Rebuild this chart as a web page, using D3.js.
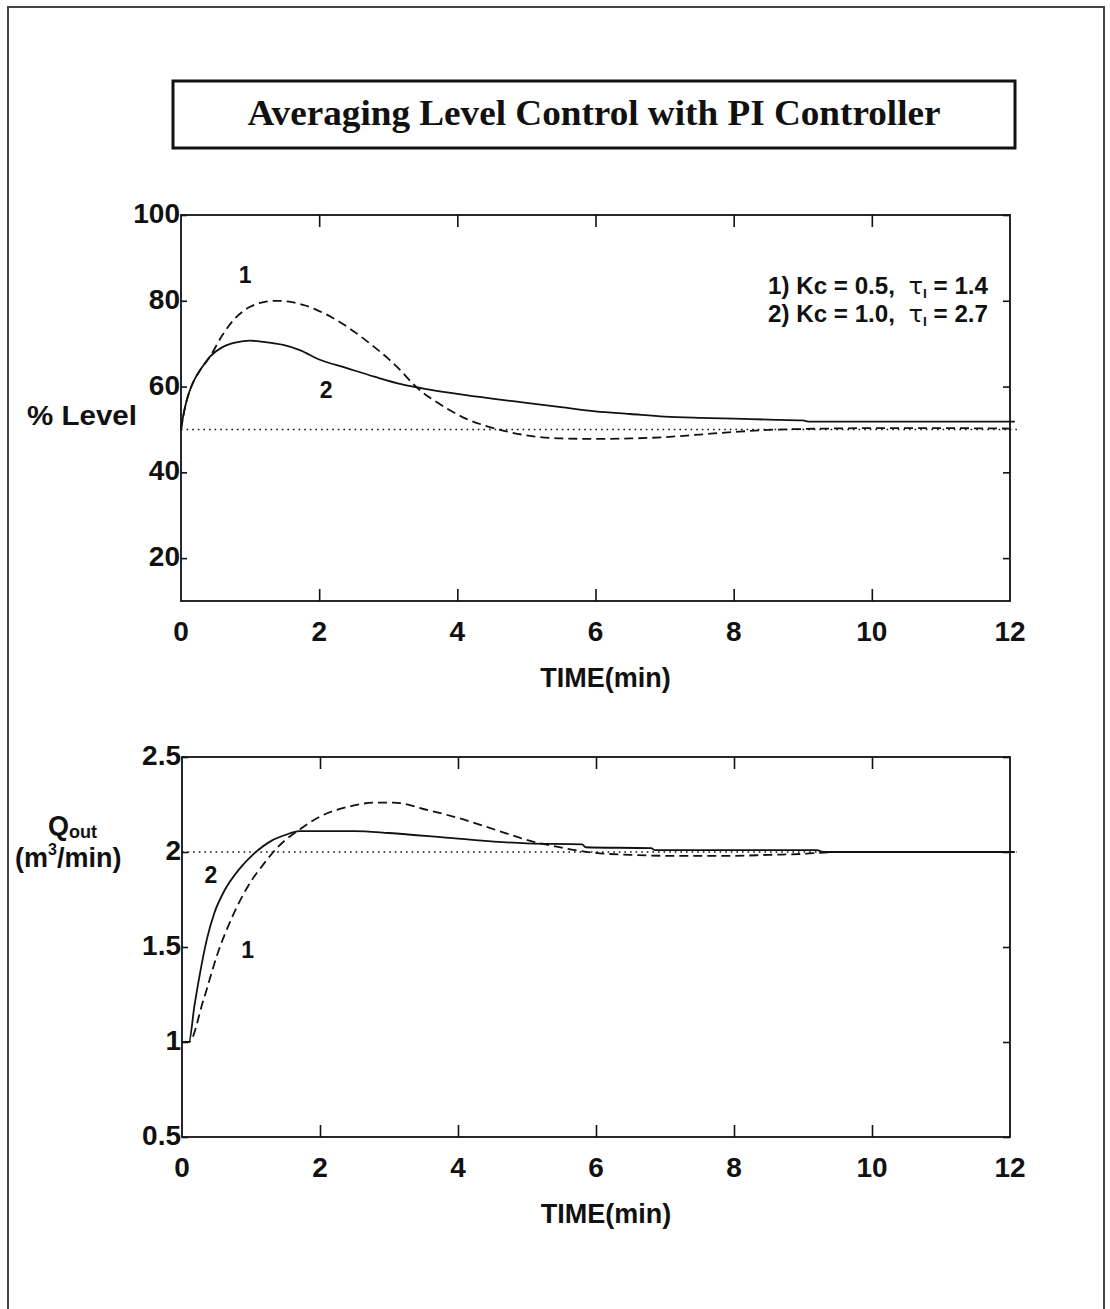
<!DOCTYPE html>
<html>
<head>
<meta charset="utf-8">
<script src="https://cdn.jsdelivr.net/npm/d3@7"></script>
<style>
  html, body { margin: 0; padding: 0; background: #fff; }
  svg { display: block; }
  .lab { font-family: "Liberation Sans", Arial, sans-serif; font-weight: bold; fill: #111; }
</style>
</head>
<body>
<svg id="chart" width="1110" height="1309"></svg>
<script>
// ---------------- data ----------------
const titleText = "Averaging Level Control with PI Controller";
const xTicks = [0, 2, 4, 6, 8, 10, 12];
const levelTicks = [20, 40, 60, 80, 100];
const flowTicks = [0.5, 1, 1.5, 2, 2.5];
const flowTickLabels = ["0.5", "1", "1.5", "2", "2.5"];
const xAxisLabel = "TIME(min)";
const levelSetpoint = 50;
const flowSetpoint = 2;
const setpointTime = [0, 12.1];

// Level, curve 1 (Kc = 0.5, tauI = 1.4) dashed
const lvl1Time = [0, 0.07, 0.13, 0.2, 0.28, 0.42, 0.6, 0.76, 1.0, 1.2, 1.39, 1.6, 1.8, 2.0, 2.2, 2.4, 2.6, 2.8, 3.0, 3.17, 3.36, 3.5, 3.65, 3.9, 4.14, 4.4, 4.62, 5.1, 5.5, 6.0, 6.5, 7.0, 7.5, 8.0, 8.5, 9.0, 10, 11, 12];
const lvl1Value = [50, 56, 59.2, 61.8, 63.9, 67, 72, 75.5, 78.6, 79.7, 80, 79.7, 78.9, 77.6, 76.0, 74.0, 71.7, 69.2, 66.5, 63.9, 60.6, 58.6, 56.9, 54.4, 52.4, 50.9, 49.9, 48.4, 47.9, 47.8, 47.9, 48.2, 48.8, 49.4, 49.9, 50.1, 50.3, 50.3, 50.2];
// Level, curve 2 (Kc = 1.0, tauI = 2.7) solid
const lvl2Time = [0, 0.03, 0.07, 0.13, 0.2, 0.28, 0.42, 0.6, 0.8, 1.0, 1.2, 1.48, 1.72, 2.0, 2.4, 2.8, 3.2, 3.6, 4.0, 4.5, 5.0, 5.5, 6.0, 6.5, 7.0, 7.5, 8.0, 8.5, 9.0, 9.1, 10, 11, 12.07];
const lvl2Value = [50, 53, 56, 59.2, 61.8, 63.9, 67, 69.2, 70.3, 70.7, 70.4, 69.7, 68.5, 66.3, 64.3, 62.3, 60.5, 59.3, 58.3, 57.2, 56.2, 55.2, 54.2, 53.6, 53.0, 52.7, 52.5, 52.3, 52.1, 51.8, 51.8, 51.8, 51.8];

// Qout, curve 1 dashed
const q1Time = [0, 0.1, 0.31, 0.52, 0.73, 0.99, 1.19, 1.4, 1.71, 2.02, 2.43, 2.8, 3.06, 3.57, 4.09, 4.6, 5.13, 5.4, 5.7, 6.0, 6.5, 7.0, 8.0, 8.5, 9.0, 9.5, 12];
const q1Value = [1.0, 1.0, 1.22, 1.47, 1.66, 1.84, 1.94, 2.03, 2.12, 2.19, 2.24, 2.26, 2.26, 2.22, 2.17, 2.11, 2.05, 2.03, 2.01, 1.995, 1.985, 1.98, 1.98, 1.985, 1.99, 2.0, 2.0];
// Qout, curve 2 solid
const q2Time = [0, 0.1, 0.18, 0.26, 0.36, 0.47, 0.62, 0.83, 1.04, 1.3, 1.5, 1.7, 2.5, 3.0, 4.0, 5.0, 5.8, 5.85, 6.8, 6.85, 9.2, 9.3, 12.07];
const q2Value = [1.0, 1.0, 1.19, 1.36, 1.54, 1.68, 1.80, 1.91, 1.99, 2.06, 2.09, 2.11, 2.11, 2.10, 2.07, 2.045, 2.04, 2.025, 2.02, 2.01, 2.01, 2.0, 2.0];

const legendLines = [
  { pre: "1) Kc = 0.5,  ", post: " = 1.4" },
  { pre: "2) Kc = 1.0,  ", post: " = 2.7" }
];

// ---------------- drawing ----------------
const svg = d3.select("#chart");
svg.append("rect").attr("width", 1110).attr("height", 1309).attr("fill", "#fff");

// outer frame
svg.append("rect").attr("x", 8).attr("y", 7).attr("width", 1096).attr("height", 1330)
  .attr("fill", "none").attr("stroke", "#444").attr("stroke-width", 2);

// title box
svg.append("rect").attr("x", 173).attr("y", 81).attr("width", 842).attr("height", 67)
  .attr("fill", "none").attr("stroke", "#111").attr("stroke-width", 3);
svg.append("text").attr("x", 594).attr("y", 125).attr("text-anchor", "middle")
  .attr("font-family", "'Liberation Serif', 'Times New Roman', serif")
  .attr("font-weight", "bold").attr("font-size", 36).attr("fill", "#111")
  .attr("textLength", 693).attr("lengthAdjust", "spacingAndGlyphs")
  .text(titleText);

function drawPanel(opts) {
  const x = d3.scaleLinear().domain([0, 12]).range([opts.left, opts.right]);
  const y = d3.scaleLinear().domain(opts.yDomain).range([opts.bottom, opts.top]);
  const g = svg.append("g");

  // frame
  g.append("rect").attr("x", opts.left).attr("y", opts.top)
    .attr("width", opts.right - opts.left).attr("height", opts.bottom - opts.top)
    .attr("fill", "none").attr("stroke", "#111").attr("stroke-width", 1.8);

  const styleAxis = sel => {
    sel.select(".domain").remove();
    sel.selectAll("line").attr("stroke", "#111").attr("stroke-width", 1.6);
    sel.selectAll("text").remove();
  };
  g.append("g").attr("transform", `translate(0,${opts.bottom})`)
    .call(d3.axisBottom(x).tickValues(xTicks.slice(1, -1)).tickSize(-12).tickFormat(""))
    .call(styleAxis);
  g.append("g").attr("transform", `translate(0,${opts.top})`)
    .call(d3.axisTop(x).tickValues(xTicks.slice(1, -1)).tickSize(-12).tickFormat(""))
    .call(styleAxis);
  g.append("g").attr("transform", `translate(${opts.left},0)`)
    .call(d3.axisLeft(y).tickValues(opts.yTicks).tickSize(-6).tickFormat(""))
    .call(styleAxis);
  g.append("g").attr("transform", `translate(${opts.right},0)`)
    .call(d3.axisRight(y).tickValues(opts.yTicks).tickSize(-7).tickFormat(""))
    .call(styleAxis);

  // x tick labels
  g.selectAll(".xl").data(xTicks).enter().append("text")
    .attr("class", "lab").attr("x", d => x(d)).attr("y", opts.bottom + 40)
    .attr("text-anchor", "middle").attr("font-size", 28).text(d => d);
  // y tick labels
  g.selectAll(".yl").data(opts.yTicks).enter().append("text")
    .attr("class", "lab").attr("x", opts.left - 1).attr("y", d => y(d) + 8)
    .attr("text-anchor", "end").attr("font-size", 28)
    .text((d, i) => opts.yTickLabels[i]);
  // x axis title
  g.append("text").attr("class", "lab").attr("x", (opts.left + opts.right) / 2 + 10)
    .attr("y", opts.bottom + 86).attr("text-anchor", "middle").attr("font-size", 27)
    .text(xAxisLabel);

  // setpoint dotted line
  const line = d3.line().x(d => x(d[0])).y(d => y(d[1]));
  g.append("path").datum(setpointTime.map(t => [t, opts.setpoint]))
    .attr("d", line).attr("fill", "none").attr("stroke", "#111")
    .attr("stroke-width", 1.6).attr("stroke-dasharray", "1.6,4");

  const curve = d3.line().curve(d3.curveMonotoneX).x(d => x(d[0])).y(d => y(d[1]));
  g.append("path").datum(opts.t1.map((t, i) => [t, opts.v1[i]]))
    .attr("d", curve).attr("fill", "none").attr("stroke", "#111")
    .attr("stroke-width", 1.8).attr("stroke-dasharray", "9,5");
  g.append("path").datum(opts.t2.map((t, i) => [t, opts.v2[i]]))
    .attr("d", curve).attr("fill", "none").attr("stroke", "#111")
    .attr("stroke-width", 1.8);

  return { x, y, g };
}

const topPanel = drawPanel({
  left: 181, right: 1010, top: 215, bottom: 601,
  yDomain: [10, 100], yTicks: levelTicks, yTickLabels: levelTicks.map(String),
  setpoint: levelSetpoint,
  t1: lvl1Time, v1: lvl1Value, t2: lvl2Time, v2: lvl2Value
});
const botPanel = drawPanel({
  left: 182, right: 1010, top: 757, bottom: 1137,
  yDomain: [0.5, 2.5], yTicks: flowTicks, yTickLabels: flowTickLabels,
  setpoint: flowSetpoint,
  t1: q1Time, v1: q1Value, t2: q2Time, v2: q2Value
});

// y axis titles
svg.append("text").attr("class", "lab").attr("x", 27).attr("y", 425)
  .attr("font-size", 28).attr("textLength", 110).attr("lengthAdjust", "spacingAndGlyphs")
  .text("% Level");
const qt = svg.append("text").attr("class", "lab").attr("x", 48).attr("y", 835).attr("font-size", 27);
qt.append("tspan").text("Q");
qt.append("tspan").attr("font-size", 18).attr("dy", 3).text("out");
const mt = svg.append("text").attr("class", "lab").attr("x", 15).attr("y", 867).attr("font-size", 27);
mt.append("tspan").text("(m");
mt.append("tspan").attr("font-size", 16).attr("dy", -12).text("3");
mt.append("tspan").attr("dy", 12).text("/min)");

// curve annotations
function note(panel, t, v, s) {
  svg.append("text").attr("class", "lab").attr("x", panel.x(t)).attr("y", panel.y(v))
    .attr("text-anchor", "middle").attr("font-size", 23).text(s);
}
note(topPanel, 0.93, 84.1, "1");
note(topPanel, 2.1, 57.3, "2");
note(botPanel, 0.42, 1.837, "2");
note(botPanel, 0.95, 1.44, "1");

// legend
legendLines.forEach((l, i) => {
  const t = svg.append("text").attr("class", "lab").attr("x", 768).attr("y", 294 + i * 28)
    .attr("font-size", 23).attr("textLength", 220).attr("lengthAdjust", "spacingAndGlyphs");
  t.append("tspan").attr("xml:space", "preserve").text(l.pre);
  t.append("tspan").attr("font-family", "'DejaVu Sans', sans-serif").attr("font-weight", "normal").text("τ");
  t.append("tspan").attr("font-size", 13).attr("dy", 4).text("I");
  t.append("tspan").attr("dy", -4).text(l.post);
});
</script>
</body>
</html>
